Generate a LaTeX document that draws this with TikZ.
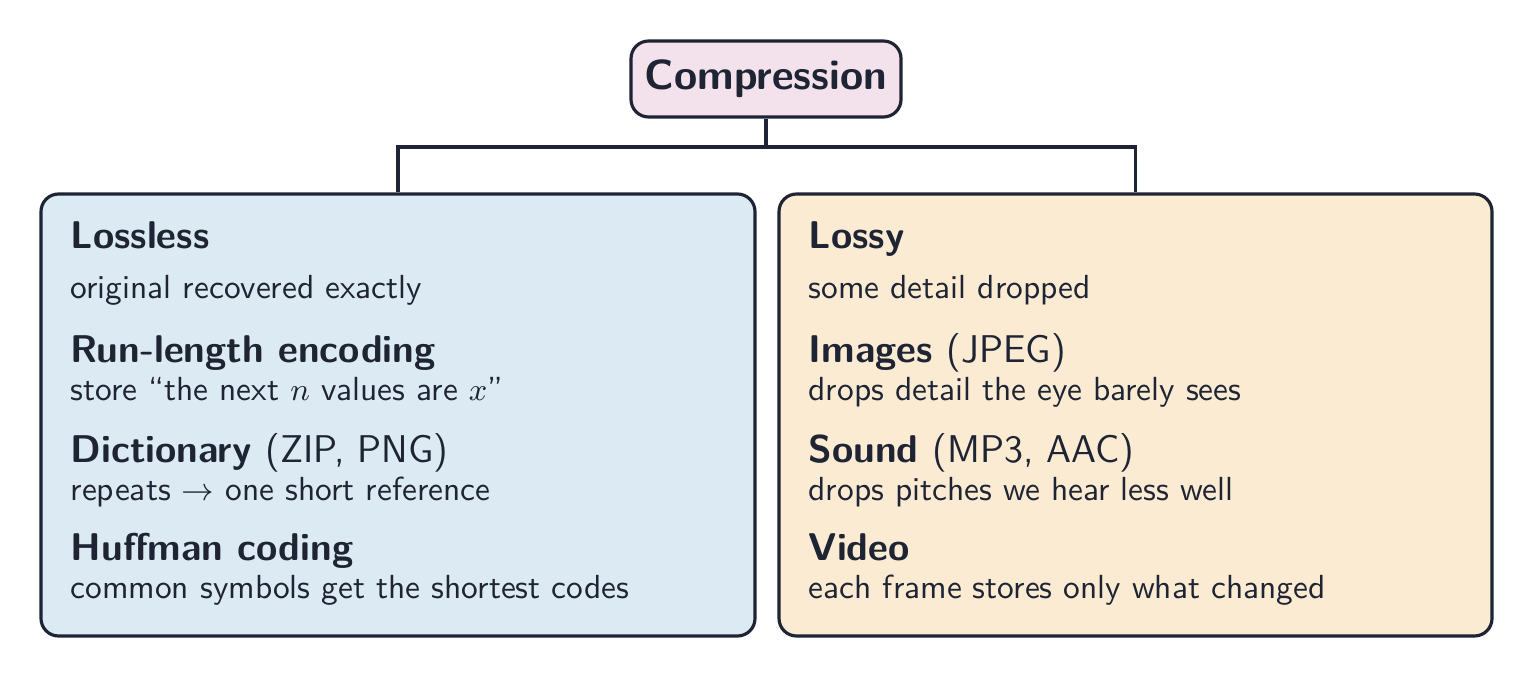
\documentclass[tikz,border=0pt]{standalone}
\usetikzlibrary{positioning}
\definecolor{inkc}{HTML}{1E2433}
\definecolor{pinkc}{HTML}{F3E1EC}
\definecolor{bluec}{HTML}{DCEAF3}
\definecolor{yellc}{HTML}{FAEBD2}
\tikzset{
  box/.style={draw=inkc,line width=0.9pt,rounded corners=5pt},
  head/.style={anchor=base west,inner sep=0pt,font=\sffamily\bfseries\fontsize{11}{13}\selectfont,text=inkc},
  body/.style={anchor=base west,inner sep=0pt,font=\sffamily\fontsize{9.5}{12}\selectfont,text=inkc},
  link/.style={draw=inkc,line width=0.9pt}
}
\begin{document}
\begin{tikzpicture}
  \useasboundingbox (0,0) rectangle (15.34,6.78);

  \node [box,fill=pinkc,minimum width=2.7cm,minimum height=0.76cm,
    font=\sffamily\bfseries\fontsize{12}{14}\selectfont,text=inkc] at (7.66,5.99) (root) {Compression};

  \node [box,fill=bluec,minimum width=7.14cm,minimum height=4.42cm] at (3.98,2.63) (lossless) {};
  \node [box,fill=yellc,minimum width=7.13cm,minimum height=4.42cm] at (11.355,2.63) (lossy) {};

  % connectors
  \coordinate (split) at (7.66,5.31);
  \draw [link] (root.south) -- (split) -| (lossless.north);
  \draw [link] (split) -| (lossy.north);

  % left column
  \node [head] at (0.70,4.30) (l_h) {Lossless};
  \node [body] at (0.70,3.80) (l_d) {original recovered exactly};
  \node [head] at (0.70,3.16) (l_h1) {Run-length encoding};
  \node [body] at (0.70,2.78) (l_d1) {store ``the next $n$ values are $x$''};
  \node [head] at (0.70,2.16) (l_h2) {Dictionary \mdseries(ZIP, PNG)};
  \node [body] at (0.70,1.78) (l_d2) {repeats $\rightarrow$ one short reference};
  \node [head] at (0.70,1.18) (l_h3) {Huffman coding};
  \node [body] at (0.70,0.80) (l_d3) {common symbols get the shortest codes};

  % right column
  \node [head] at (8.08,4.30) (r_h) {Lossy};
  \node [body] at (8.08,3.80) (r_d) {some detail dropped};
  \node [head] at (8.08,3.16) (r_h1) {Images \mdseries(JPEG)};
  \node [body] at (8.08,2.78) (r_d1) {drops detail the eye barely sees};
  \node [head] at (8.08,2.16) (r_h2) {Sound \mdseries(MP3, AAC)};
  \node [body] at (8.08,1.78) (r_d2) {drops pitches we hear less well};
  \node [head] at (8.08,1.18) (r_h3) {Video};
  \node [body] at (8.08,0.80) (r_d3) {each frame stores only what changed};
\end{tikzpicture}
\end{document}
